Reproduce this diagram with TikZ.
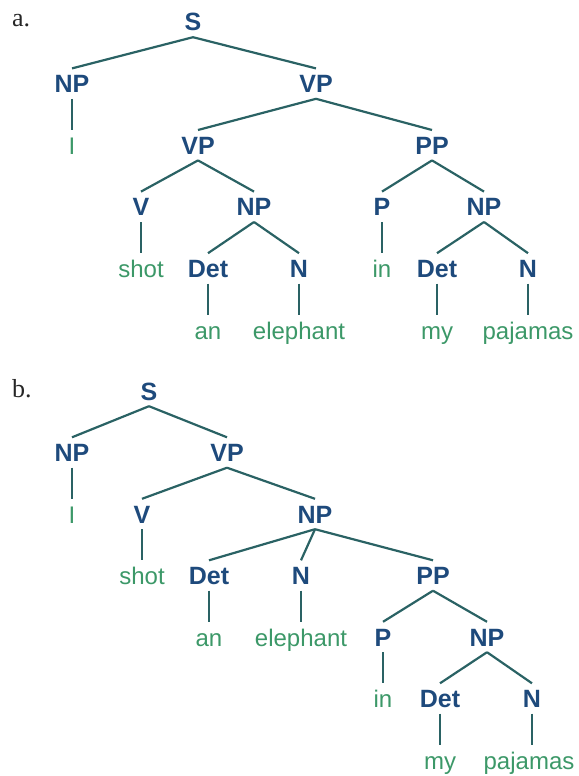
\documentclass[tikz,border=0pt]{standalone}
\usepackage{fontspec}
\setmainfont{Liberation Serif}
\setsansfont{Liberation Sans}
\definecolor{labelblue}{RGB}{30,74,124}
\definecolor{wordgreen}{RGB}{60,152,104}
\definecolor{branch}{RGB}{42,98,100}
\begin{document}
\begin{tikzpicture}[x=1pt,y=-1pt,
  cat/.style={font=\sffamily\bfseries\fontsize{25}{25}\selectfont, text=labelblue,
    anchor=base, inner sep=0pt, text height=24pt, text depth=6pt},
  word/.style={font=\sffamily\fontsize{24}{24}\selectfont, text=wordgreen,
    anchor=base, inner sep=0pt, text height=24pt, text depth=6pt},
  tag/.style={font=\fontsize{26}{26}\selectfont, text=black!85, anchor=base west, inner sep=0pt},
  edge/.style={draw=branch, line width=2.2pt}]
\useasboundingbox (0,0) rectangle (578,776);

% ---------- tree a: PP attached to the VP ----------
\node[tag] (la) at (12,27) {a.};
\node[cat] (aS)   at (193,31) {S};
\node[cat] (aNP1) at (72,92.6) {NP};
\node[cat] (aVP1) at (316,92.6) {VP};
\node[word] (aI)  at (72,154.2) {I};
\node[cat] (aVP2) at (198,154.2) {VP};
\node[cat] (aPP)  at (432,154.2) {PP};
\node[cat] (aV)   at (141,215.8) {V};
\node[cat] (aNP2) at (254,215.8) {NP};
\node[cat] (aP)   at (382,215.8) {P};
\node[cat] (aNP3) at (484,215.8) {NP};
\node[word] (ashot) at (141,277.4) {shot};
\node[cat] (aDet1) at (208,277.4) {Det};
\node[cat] (aN1)   at (299,277.4) {N};
\node[word] (ain)  at (382,277.4) {in};
\node[cat] (aDet2) at (437,277.4) {Det};
\node[cat] (aN2)   at (528,277.4) {N};
\node[word] (aan)  at (208,339) {an};
\node[word] (aeleph) at (299,339) {elephant};
\node[word] (amy)  at (437,339) {my};
\node[word] (apaj) at (528,339) {pajamas};

\draw[edge] (aS.south) -- (aNP1.north);
\draw[edge] (aS.south) -- (aVP1.north);
\draw[edge] (aNP1.south) -- (aNP1.south |- aI.north);
\draw[edge] (aVP1.south) -- (aVP2.north);
\draw[edge] (aVP1.south) -- (aPP.north);
\draw[edge] (aVP2.south) -- (aV.north);
\draw[edge] (aVP2.south) -- (aNP2.north);
\draw[edge] (aPP.south) -- (aP.north);
\draw[edge] (aPP.south) -- (aNP3.north);
\draw[edge] (aV.south) -- (aV.south |- ashot.north);
\draw[edge] (aNP2.south) -- (aDet1.north);
\draw[edge] (aNP2.south) -- (aN1.north);
\draw[edge] (aP.south) -- (aP.south |- ain.north);
\draw[edge] (aNP3.south) -- (aDet2.north);
\draw[edge] (aNP3.south) -- (aN2.north);
\draw[edge] (aDet1.south) -- (aDet1.south |- aan.north);
\draw[edge] (aN1.south) -- (aN1.south |- aeleph.north);
\draw[edge] (aDet2.south) -- (aDet2.south |- amy.north);
\draw[edge] (aN2.south) -- (aN2.south |- apaj.north);

% ---------- tree b: PP attached to the object NP ----------
\node[tag] (lb) at (12,397) {b.};
\node[cat] (bS)   at (149,400) {S};
\node[cat] (bNP1) at (72,461.5) {NP};
\node[cat] (bVP)  at (227,461.5) {VP};
\node[word] (bI)  at (72,523) {I};
\node[cat] (bV)   at (142,523) {V};
\node[cat] (bNP2) at (315,523) {NP};
\node[word] (bshot) at (142,584.5) {shot};
\node[cat] (bDet1) at (209,584.5) {Det};
\node[cat] (bN1)   at (301,584.5) {N};
\node[cat] (bPP)   at (433,584.5) {PP};
\node[word] (ban)  at (209,646) {an};
\node[word] (beleph) at (301,646) {elephant};
\node[cat] (bP)    at (383,646) {P};
\node[cat] (bNP3)  at (487,646) {NP};
\node[word] (bin)  at (383,707.5) {in};
\node[cat] (bDet2) at (440,707.5) {Det};
\node[cat] (bN2)   at (532,707.5) {N};
\node[word] (bmy)  at (440,769) {my};
\node[word] (bpaj) at (529,769) {pajamas};

\draw[edge] (bS.south) -- (bNP1.north);
\draw[edge] (bS.south) -- (bVP.north);
\draw[edge] (bNP1.south) -- (bNP1.south |- bI.north);
\draw[edge] (bVP.south) -- (bV.north);
\draw[edge] (bVP.south) -- (bNP2.north);
\draw[edge] (bV.south) -- (bV.south |- bshot.north);
\draw[edge] (bNP2.south) -- (bDet1.north);
\draw[edge] (bNP2.south) -- (bN1.north);
\draw[edge] (bNP2.south) -- (bPP.north);
\draw[edge] (bDet1.south) -- (bDet1.south |- ban.north);
\draw[edge] (bN1.south) -- (bN1.south |- beleph.north);
\draw[edge] (bPP.south) -- (bP.north);
\draw[edge] (bPP.south) -- (bNP3.north);
\draw[edge] (bP.south) -- (bP.south |- bin.north);
\draw[edge] (bNP3.south) -- (bDet2.north);
\draw[edge] (bNP3.south) -- (bN2.north);
\draw[edge] (bDet2.south) -- (bDet2.south |- bmy.north);
\draw[edge] (bN2.south) -- (bN2.south |- bpaj.north);
\end{tikzpicture}
\end{document}
